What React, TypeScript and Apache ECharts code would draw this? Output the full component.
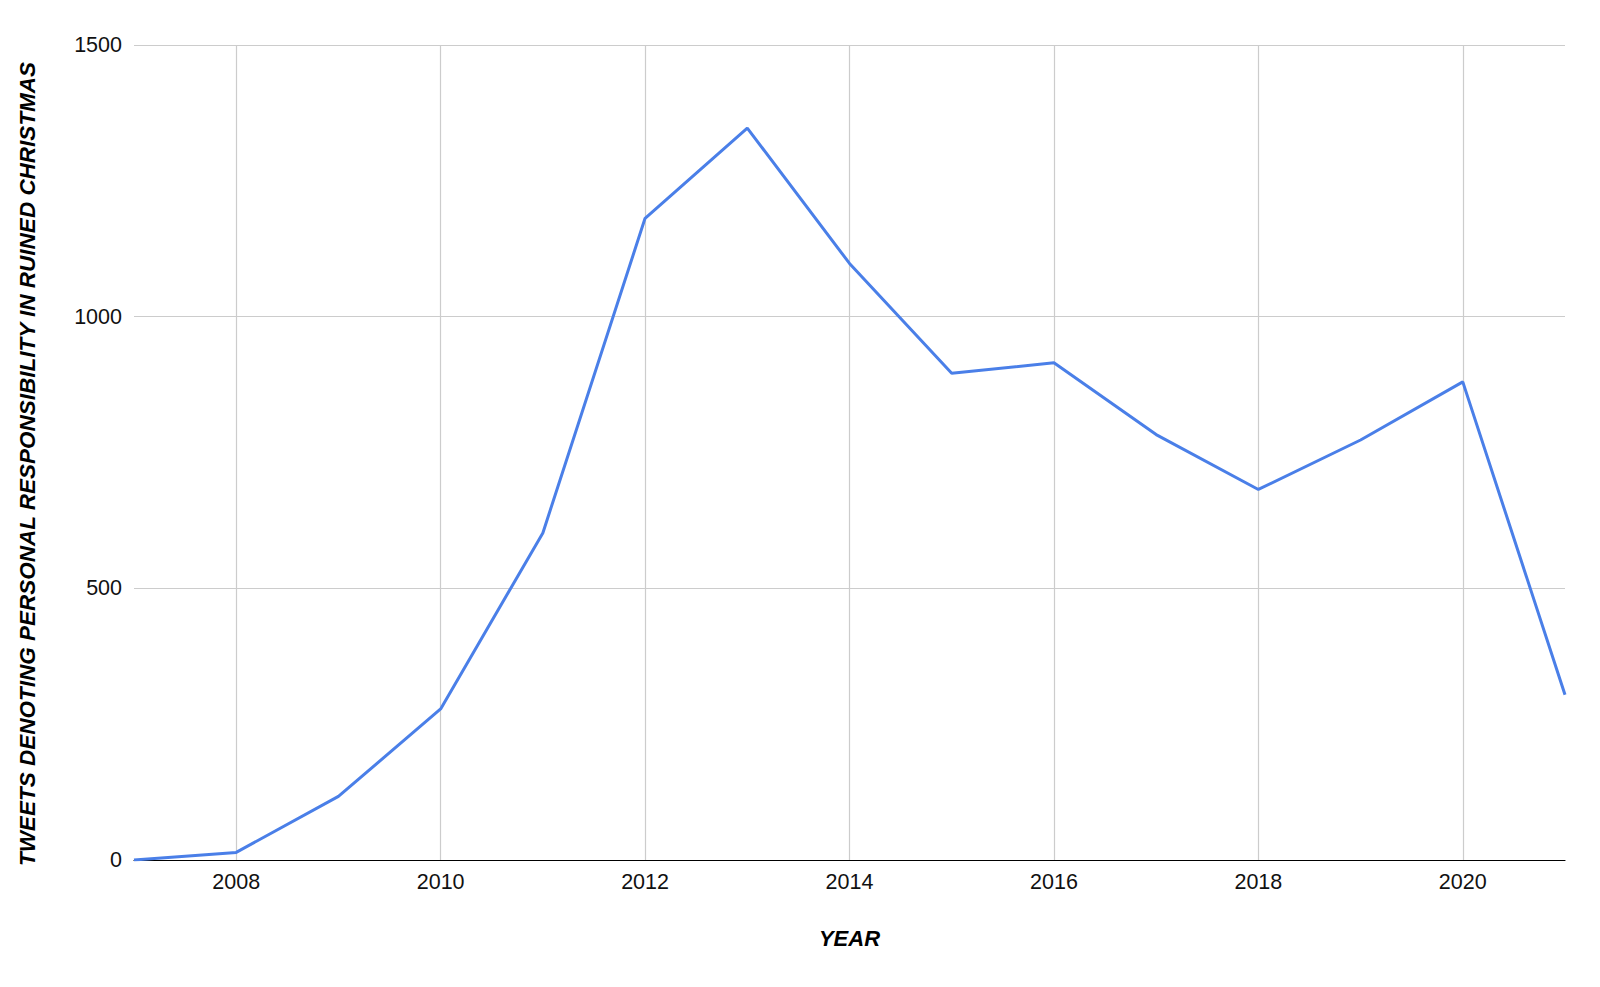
import React, { useEffect, useRef } from "react";
import * as echarts from "echarts";

const years = ["2007","2008","2009","2010","2011","2012","2013","2014","2015","2016","2017","2018","2019","2020","2021"];
const tweets = [0, 14, 117, 278, 602, 1181, 1347, 1098, 896, 915, 783, 682, 773, 880, 304];
const yTicks = [0, 500, 1000, 1500];

const FONT = "'Liberation Sans', Arial, sans-serif";

export default function App() {
  const ref = useRef<HTMLDivElement>(null);
  useEffect(() => {
    if (!ref.current) return;
    const chart = echarts.init(ref.current, null, { renderer: "svg" });
    const even = (i: number) => parseInt(years[i], 10) % 2 === 0;
    chart.setOption({
      animation: false,
      backgroundColor: "#ffffff",
      textStyle: { fontFamily: FONT },
      grid: { left: 134, right: 35, top: 45, bottom: 127, containLabel: false },
      xAxis: {
        type: "category",
        data: years,
        boundaryGap: false,
        name: "YEAR",
        nameLocation: "middle",
        nameGap: 67,
        nameTextStyle: { fontFamily: FONT, fontSize: 22, fontWeight: "bold", fontStyle: "italic", color: "#000" },
        axisLine: { show: true, lineStyle: { color: "#000", width: 1.2 } },
        axisTick: { show: false },
        axisLabel: {
          interval: (i: number) => even(i),
          margin: 11,
          fontFamily: FONT,
          fontSize: 21.5,
          color: "#111",
        },
        splitLine: {
          show: true,
          interval: (i: number) => even(i),
          lineStyle: { color: "#cccccc", width: 1.2 },
        },
      },
      yAxis: {
        type: "value",
        min: yTicks[0],
        max: yTicks[yTicks.length - 1],
        interval: 500,
        name: "TWEETS DENOTING PERSONAL RESPONSIBILITY IN RUINED CHRISTMAS",
        nameLocation: "middle",
        nameGap: 95,
        nameTextStyle: {
          fontFamily: FONT,
          fontSize: 22.5,
          fontWeight: "bold",
          fontStyle: "italic",
          color: "#000",
          padding: [0, 23, 0, 0],
        },
        axisLine: { show: false },
        axisTick: { show: false },
        axisLabel: {
          margin: 12,
          fontFamily: FONT,
          fontSize: 21.5,
          color: "#111",
          formatter: (v: number) => String(v),
        },
        splitLine: { show: true, lineStyle: { color: "#cccccc", width: 1.2 } },
      },
      series: [
        {
          type: "line",
          data: tweets,
          symbol: "none",
          lineStyle: { color: "#4a7fe8", width: 3 },
          z: 3,
        },
      ],
    });
    return () => chart.dispose();
  }, []);
  return <div ref={ref} style={{ width: 1600, height: 987, position: "absolute", left: 0, top: 0 }} />;
}
